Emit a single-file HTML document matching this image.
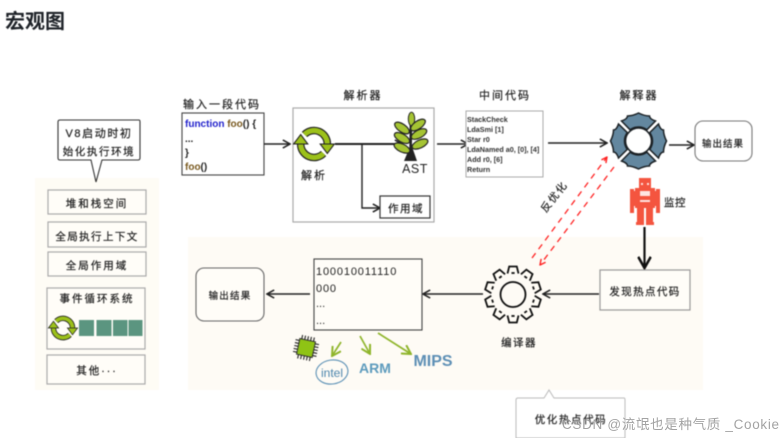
<!DOCTYPE html>
<html lang="zh"><head><meta charset="utf-8"><style>
html,body{margin:0;padding:0;background:#fff;width:783px;height:438px;overflow:hidden}
svg{display:block;position:absolute;left:0;top:0}
text{font-family:"Liberation Sans","WenQuanYi Zen Hei","Noto Sans CJK SC",sans-serif;fill:#222}
.h{font-size:10.5px;letter-spacing:2px;text-anchor:middle;stroke:#222;stroke-width:.2}
.c{font-family:"Liberation Sans",sans-serif;font-size:10px;font-weight:bold}
.m{font-family:"Liberation Sans",sans-serif;font-size:7.2px;font-weight:bold;fill:#333}
.b{fill:#fffdf8;stroke:#aaa;stroke-width:1.2}
.l{fill:none;stroke:#222;stroke-width:1.4}
</style></head><body>
<svg width="783" height="438" viewBox="0 0 783 438" xmlns="http://www.w3.org/2000/svg">
<defs>
<marker id="a" viewBox="0 0 10 10" refX="9" refY="5" markerWidth="9" markerHeight="9" markerUnits="userSpaceOnUse" orient="auto"><path d="M1 .5L9 5L1 9.5" fill="none" stroke="#222" stroke-width="1.7"/></marker>
<marker id="k" viewBox="0 0 10 10" refX="9" refY="5" markerWidth="14" markerHeight="14" markerUnits="userSpaceOnUse" orient="auto"><path d="M1 .5L9 5L1 9.5" fill="none" stroke="#111" stroke-width="1.8"/></marker>
<marker id="g" viewBox="0 0 10 10" refX="9" refY="5" markerWidth="11" markerHeight="11" markerUnits="userSpaceOnUse" orient="auto"><path d="M1 .5L9 5L1 9.5" fill="none" stroke="#8fb52b" stroke-width="1.8"/></marker>
<marker id="r" viewBox="0 0 10 10" refX="9" refY="5" markerWidth="7" markerHeight="7" markerUnits="userSpaceOnUse" orient="auto"><path d="M1 1L9 5L1 9" fill="none" stroke="#f22" stroke-width="2"/></marker>
<g id="cyc">
<path d="M-10 -10A14 14 0 0 1 14 0" fill="none" stroke="#222" stroke-width="8"/>
<path d="M10 10A14 14 0 0 1 -14 0" fill="none" stroke="#222" stroke-width="8"/>
<path d="M-10 -10A14 14 0 0 1 14 0" fill="none" stroke="#9cc11a" stroke-width="5.500"/>
<path d="M10 10A14 14 0 0 1 -14 0" fill="none" stroke="#9cc11a" stroke-width="5.500"/>
<path d="M6.500 0L21.500 0L14 10Z M-21.500 0L-6.500 0L-14 -10Z" fill="#9cc11a" stroke="#222" stroke-width="1.1"/>
</g>
<path id="lobe" d="M-8.4 -11.2L-17 -20Q-11 -22 -11 -25Q-6 -25 0 -28Q6 -25 11 -25Q11 -22 17 -20L8.4 -11.2A14 14 0 0 0 -8.4 -11.2Z" fill="#63879f" stroke="#1c2226" stroke-width="1.5"/>
<path id="tooth" d="M-5.5 -21L-3.8 -28H3.8L5.5 -21" fill="#fffcf5" stroke="#111" stroke-width="1.8"/>
<ellipse id="leaf" cx="0" cy="0" rx="8.500" ry="4" fill="#a5c433" stroke="#222" stroke-width="1.2"/>
</defs>
<g style="filter:blur(.4px)">
<text x="5" y="28" style="font-size:20px;font-weight:bold;fill:#1f2329">宏观图</text>

<rect x="35" y="178" width="124" height="212" fill="#fefcf5"/>
<rect x="188" y="237" width="515" height="153" fill="#fefbf5"/>

<path d="M60 120H139Q140 120 140 122V158Q140 160 138 160H102L96 182L91 160H60Q58 160 58 158V122Q58 120 60 120Z" fill="#fff" stroke="#333" stroke-width="1.1"/>
<text x="99" y="137" class="h" style="font-size:11px;letter-spacing:1.6px">V8启动时初</text>
<text x="99" y="155" class="h" style="font-size:10.5px;letter-spacing:1.6px">始化执行环境</text>

<rect x="48" y="190" width="98" height="24" class="b"/>
<text x="97" y="207" class="h">堆和栈空间</text>
<rect x="48" y="222" width="98" height="25" class="b"/>
<text x="97" y="240" class="h" style="letter-spacing:1.4px">全局执行上下文</text>
<rect x="48" y="252" width="98" height="24" class="b"/>
<text x="97" y="269" class="h">全局作用域</text>
<rect x="47" y="288" width="98" height="61" class="b"/>
<text x="97" y="302" class="h">事件循环系统</text>
<use href="#cyc" transform="translate(63 328) scale(.68)"/>
<path d="M79 320h15v16h-15zM96.500 320h15v16h-15zM113 320h14.500v16H113zM128.500 320h14v16h-14z" fill="#5b9580"/>
<rect x="47" y="355" width="98" height="29" class="b"/>
<text x="97" y="374" class="h">其他···</text>

<text x="222" y="108" class="h" style="font-size:11px">输入一段代码</text>
<rect x="182" y="113" width="82" height="62" fill="#fff" stroke="#444" stroke-width="1.1"/>
<text x="185" y="127" class="c"><tspan style="fill:#22c">function</tspan> <tspan style="fill:#7a5a20">foo</tspan>() {</text>
<text x="185" y="142" class="c">...</text>
<text x="185" y="156" class="c">}</text>
<text x="185" y="170" class="c"><tspan style="fill:#7a5a20">foo</tspan>()</text>

<text x="363" y="99" class="h" style="font-size:11px">解析器</text>
<rect x="293" y="108" width="141" height="114" fill="#fff" stroke="#aaa" stroke-width="1.2"/>
<path class="l" d="M264 144H290" marker-end="url(#a)"/>
<path d="M335 144H402" fill="none" stroke="#222" stroke-width="1.9" marker-end="url(#a)"/>
<path d="M362 144V208H380" class="l" marker-end="url(#a)"/>
<use href="#cyc" transform="translate(314 144) scale(.95)"/>
<text x="314" y="179" class="h" style="font-size:11px">解析</text>
<path d="M410.500 158L411 116" stroke="#222" stroke-width="2.600" fill="none"/>
<path d="M404 161H417L412.500 148H409.500Z" fill="#222"/>
<use href="#leaf" transform="translate(411.500 119) rotate(90) scale(.8)"/>
<use href="#leaf" transform="translate(402 128) rotate(35)"/>
<use href="#leaf" transform="translate(418 125) rotate(-35)"/>
<use href="#leaf" transform="translate(402 138) rotate(30)"/>
<use href="#leaf" transform="translate(419 134) rotate(-28)"/>
<use href="#leaf" transform="translate(402 148) rotate(25)"/>
<use href="#leaf" transform="translate(420 144) rotate(-25)"/>
<text x="415" y="173" style="font-size:12.500px;text-anchor:middle;letter-spacing:.5px">AST</text>
<rect x="380" y="196" width="50" height="22" fill="#fff" stroke="#333" stroke-width="1.2"/>
<text x="406" y="212" class="h" style="letter-spacing:1.5px">作用域</text>

<path class="l" d="M437 144H468" marker-end="url(#a)"/>
<text x="505" y="99" class="h" style="font-size:11px">中间代码</text>
<rect x="466" y="111" width="77" height="66" fill="#fff" stroke="#aaa"/>
<text x="467" y="122" class="m">StackCheck</text>
<text x="467" y="132" class="m">LdaSmi [1]</text>
<text x="467" y="142" class="m">Star r0</text>
<text x="467" y="152" class="m">LdaNamed a0, [0], [4]</text>
<text x="467" y="162" class="m">Add r0, [6]</text>
<text x="467" y="172" class="m">Return</text>

<path class="l" d="M548 143H607" marker-end="url(#a)"/>
<text x="639" y="99" class="h" style="font-size:11px">解释器</text>
<g transform="translate(638.500 141)">
<use href="#lobe"/><use href="#lobe" transform="rotate(90)"/><use href="#lobe" transform="rotate(180)"/><use href="#lobe" transform="rotate(270)"/>
<circle r="13" fill="#fff" stroke="#1c2226" stroke-width="1.6"/>
</g>
<path class="l" d="M669 145H694" marker-end="url(#a)"/>
<rect x="695" y="121" width="57" height="40" rx="8" fill="#fff" stroke="#777" stroke-width="1.1"/>
<text x="723" y="147" class="h" style="font-size:9.500px;letter-spacing:1px">输出结果</text>

<path fill="#f4553f" d="M639 178h12v10h4v20h-2v14h1v3h-8v-17h-2v17h-8v-3h1v-14h-2v-20h4z"/>
<path fill="#f4553f" d="M630 189h4v2h1v15h-1v7h-4zM656 189h4v24h-4v-7h-1v-15h1z"/>
<path fill="#fff" d="M641 183h2v2h-2zM647 183h2v2h-2zM640 191h10v5h-10zM640 200h10v2h-10z" opacity=".85"/>
<text x="675" y="206" class="h" style="font-size:10.500px;letter-spacing:.6px">监控</text>

<path d="M644.500 227V268" fill="none" stroke="#111" stroke-width="2.2" marker-end="url(#k)"/>

<path d="M532 258L607 157" fill="none" stroke="#f22" stroke-width="1.3" stroke-dasharray="6 5" marker-end="url(#r)"/>
<path d="M614 167L540 265" fill="none" stroke="#f22" stroke-width="1.3" stroke-dasharray="6 5" marker-end="url(#r)"/>
<text transform="translate(557 199) rotate(-52)" class="h" style="font-size:10.500px;letter-spacing:1.5px">反优化</text>

<rect x="600" y="270" width="90" height="40" fill="#fffdf8" stroke="#999" stroke-width="1.2"/>
<text x="645" y="295" class="h" style="font-size:10.500px;letter-spacing:1.4px">发现热点代码</text>
<path class="l" d="M599 294H543" marker-end="url(#a)"/>

<g transform="translate(513 294.500)">
<use href="#tooth"/><use href="#tooth" transform="rotate(36)"/><use href="#tooth" transform="rotate(72)"/><use href="#tooth" transform="rotate(108)"/><use href="#tooth" transform="rotate(144)"/><use href="#tooth" transform="rotate(180)"/><use href="#tooth" transform="rotate(216)"/><use href="#tooth" transform="rotate(252)"/><use href="#tooth" transform="rotate(288)"/><use href="#tooth" transform="rotate(324)"/>
<circle r="21.500" fill="none" stroke="#111" stroke-width="1.8" stroke-dasharray="3.200 10.300" stroke-dashoffset="-5.100"/>
<circle r="12.500" fill="none" stroke="#111" stroke-width="1.8"/>
</g>
<text x="519" y="346" class="h" style="font-size:10.500px;letter-spacing:1.4px">编译器</text>
<path class="l" d="M483 294H423" marker-end="url(#a)"/>

<rect x="314" y="259" width="108" height="71" fill="#fffdf8" stroke="#444" stroke-width="1.1"/>
<text x="316" y="275" style="font-size:11px;letter-spacing:.85px">100010011110</text>
<text x="316" y="292" style="font-size:11px;letter-spacing:.85px">000</text>
<text x="316" y="307" style="font-size:11px">...</text>
<text x="316" y="324" style="font-size:11px">...</text>
<path class="l" d="M310 294H267" marker-end="url(#a)"/>
<rect x="196" y="268" width="68" height="53" rx="8" fill="#fffdf8" stroke="#666" stroke-width="1.1"/>
<text x="230" y="299" class="h" style="font-size:9.500px;letter-spacing:1.2px">输出结果</text>

<g transform="translate(306 348) rotate(12)">
<rect x="-8" y="-8" width="16" height="16" fill="#8fc315" stroke="#333"/>
<path d="M-6 -8v-4M-3 -8v-4M0 -8v-4M3 -8v-4M6 -8v-4M-6 8v4M-3 8v4M0 8v4M3 8v4M6 8v4M-8 -6h-4M-8 -3h-4M-8 0h-4M-8 3h-4M-8 6h-4M8 -6h4M8 -3h4M8 0h4M8 3h4M8 6h4" stroke="#222" stroke-width="1.1"/>
</g>
<path d="M341 342L332 356" fill="none" stroke="#8fb52b" stroke-width="1.7" marker-end="url(#g)"/>
<path d="M360 336L370 354" fill="none" stroke="#8fb52b" stroke-width="1.7" marker-end="url(#g)"/>
<path d="M378 333L411 354" fill="none" stroke="#8fb52b" stroke-width="1.7" marker-end="url(#g)"/>
<ellipse cx="332" cy="372" rx="16" ry="12" fill="none" stroke="#5b90b5" stroke-width="1.100" transform="rotate(-8 332 372)"/>
<text x="332" y="377" style="font-size:12px;text-anchor:middle;fill:#4d86ad">intel</text>
<text x="375" y="373" style="font-size:14px;font-weight:bold;text-anchor:middle;fill:#5d9bbd">ARM</text>
<text x="433" y="366" style="font-size:16px;font-weight:bold;text-anchor:middle;fill:#5d8fb5">MIPS</text>

<path d="M518 398H544L549 390L554 398H624Q625 398 625 400V438H516V400Q516 398 518 398Z" fill="#fff" stroke="#bbb"/>
<text x="571" y="423" class="h" style="font-size:10.500px;letter-spacing:1.6px">优化热点代码</text>
</g>
<text x="562" y="429" textLength="217" lengthAdjust="spacing" style="font-size:13.500px;fill:#9a9a9a;opacity:.9">CSDN @流氓也是种气质 _Cookie</text>
</svg>
</body></html>
